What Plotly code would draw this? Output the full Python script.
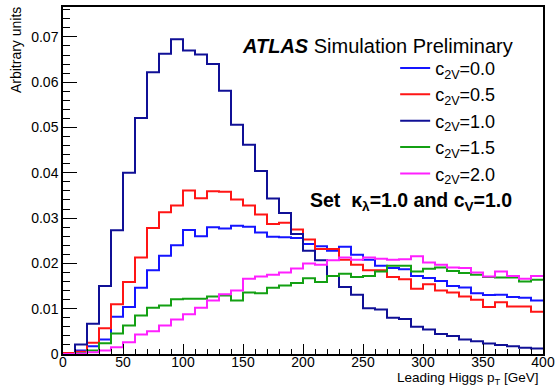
import plotly.graph_objects as go

# bin low edges [GeV], 10 GeV bins from 0 to 400
bin_low = list(range(0, 400, 10))
x_max = 400

labels = ["c<sub>2V</sub>=0.0", "c<sub>2V</sub>=0.5", "c<sub>2V</sub>=1.0",
          "c<sub>2V</sub>=1.5", "c<sub>2V</sub>=2.0"]

c2v_00 = [0.0, 0.0008, 0.0017, 0.0032, 0.0082, 0.0104, 0.0146, 0.0185, 0.0217, 0.0240,
          0.0274, 0.0260, 0.0280, 0.0277, 0.0283, 0.0281, 0.0268, 0.0259, 0.0258, 0.0256,
          0.0243, 0.0238, 0.0228, 0.0237, 0.0219, 0.0208, 0.0195, 0.0190, 0.0187, 0.0172,
          0.0168, 0.0161, 0.0150, 0.0147, 0.0134, 0.0130, 0.0131, 0.0126, 0.0124, 0.0118]

c2v_05 = [0.0002, 0.0005, 0.0025, 0.0057, 0.0110, 0.0159, 0.0213, 0.0278, 0.0313, 0.0328,
          0.0361, 0.0344, 0.0359, 0.0358, 0.0341, 0.0328, 0.0308, 0.0287, 0.0290, 0.0275,
          0.0253, 0.0232, 0.0232, 0.0208, 0.0197, 0.0185, 0.0185, 0.0170, 0.0165, 0.0144,
          0.0154, 0.0140, 0.0136, 0.0127, 0.0120, 0.0104, 0.0114, 0.0105, 0.0105, 0.0093]

c2v_10 = [0.0, 0.0021, 0.0067, 0.0150, 0.0273, 0.0400, 0.0521, 0.0622, 0.0663, 0.0695,
          0.0670, 0.0661, 0.0640, 0.0581, 0.0506, 0.0462, 0.0404, 0.0343, 0.0311, 0.0265,
          0.0228, 0.0207, 0.0172, 0.0148, 0.0131, 0.0101, 0.0098, 0.0080, 0.0077, 0.0060,
          0.0054, 0.0044, 0.0040, 0.0032, 0.0028, 0.0023, 0.0020, 0.0017, 0.0014, 0.0012]

c2v_15 = [0.0, 0.0002, 0.0008, 0.0024, 0.0045, 0.0063, 0.0085, 0.0102, 0.0107, 0.0121,
          0.0122, 0.0122, 0.0127, 0.0129, 0.0118, 0.0136, 0.0134, 0.0146, 0.0151, 0.0157,
          0.0167, 0.0159, 0.0172, 0.0177, 0.0170, 0.0172, 0.0182, 0.0195, 0.0195, 0.0182,
          0.0188, 0.0191, 0.0183, 0.0179, 0.0175, 0.0170, 0.0169, 0.0169, 0.0160, 0.0164]

c2v_20 = [0.0, 0.0001, 0.0004, 0.0008, 0.0015, 0.0026, 0.0043, 0.0050, 0.0063, 0.0076,
          0.0088, 0.0102, 0.0118, 0.0132, 0.0140, 0.0166, 0.0171, 0.0175, 0.0180, 0.0189,
          0.0200, 0.0197, 0.0207, 0.0213, 0.0208, 0.0213, 0.0210, 0.0208, 0.0209, 0.0216,
          0.0202, 0.0197, 0.0191, 0.0190, 0.0180, 0.0171, 0.0182, 0.0172, 0.0166, 0.0172]

y_tick_vals = [0, 0.01, 0.02, 0.03, 0.04, 0.05, 0.06, 0.07]
y_tick_text = ["0", "0.01", "0.02", "0.03", "0.04", "0.05", "0.06", "0.07"]
x_tick_vals = [0, 50, 100, 150, 200, 250, 300, 350, 400]
x_tick_text = ["0", "50", "100", "150", "200", "250", "300", "350", "400"]

series = [c2v_00, c2v_05, c2v_10, c2v_15, c2v_20]
colors = ["#1515ff", "#ff1515", "#101096", "#13a013", "#ff20ff"]

FONT = "Liberation Sans, Arial, Helvetica, sans-serif"

fig = go.Figure()
edges = bin_low + [x_max]
for lab, vals, col in zip(labels, series, colors):
    fig.add_trace(go.Scatter(
        x=edges, y=vals + [vals[-1]], mode="lines", line_shape="hv",
        line=dict(color=col, width=2), name=lab,
    ))

fig.update_layout(
    width=555, height=386,
    margin=dict(l=63, r=12, t=7, b=32, autoexpand=False),
    paper_bgcolor="white", plot_bgcolor="white",
    font=dict(family=FONT, size=14, color="black"),
    showlegend=True,
    legend=dict(x=0.692, y=0.877, xanchor="left", yanchor="top",
                bgcolor="rgba(0,0,0,0)", font=dict(size=18, family=FONT),
                itemwidth=30, tracegroupgap=0),
    xaxis=dict(range=[0, 400], showgrid=False, zeroline=False, automargin=False,
               showline=True, linecolor="black", linewidth=1.5, mirror=True,
               ticks="inside", ticklen=10, tickwidth=1.2, tickcolor="black",
               tickmode="array", tickvals=x_tick_vals, ticktext=x_tick_text,
               minor=dict(ticks="inside", ticklen=5, dtick=10, tickcolor="black", tickwidth=1.2),
               tickfont=dict(size=14), ticklabelstandoff=-6),
    yaxis=dict(range=[0, 0.0766], showgrid=False, zeroline=False, automargin=False,
               showline=True, linecolor="black", linewidth=1.5, mirror=True,
               ticks="inside", ticklen=14, tickwidth=1.2, tickcolor="black",
               tickmode="array", tickvals=y_tick_vals, ticktext=y_tick_text,
               minor=dict(ticks="inside", ticklen=7, dtick=0.002, tickcolor="black", tickwidth=1.2),
               tickfont=dict(size=14)),
)

fig.add_annotation(text="Arbitrary units", xref="paper", yref="paper",
                   x=-0.099, y=1.007, xanchor="center", yanchor="top",
                   textangle=-90, showarrow=False, font=dict(size=14))
fig.add_annotation(text="Leading Higgs p<sub>T</sub> [GeV]", xref="paper", yref="paper",
                   x=0.995, y=-0.072, xanchor="right", yanchor="middle",
                   showarrow=False, font=dict(size=13.5))
fig.add_annotation(text="<b><i>ATLAS</i></b> Simulation Preliminary", xref="paper", yref="paper",
                   x=0.369, y=0.888, xanchor="left", yanchor="middle",
                   showarrow=False, font=dict(size=20))
fig.add_annotation(text="<b>Set  κ<sub>λ</sub>=1.0 and c<sub>V</sub>=1.0</b>", xref="paper", yref="paper",
                   x=0.51, y=0.44, xanchor="left", yanchor="middle",
                   showarrow=False, font=dict(size=19.5))

fig.write_html("out.html")
